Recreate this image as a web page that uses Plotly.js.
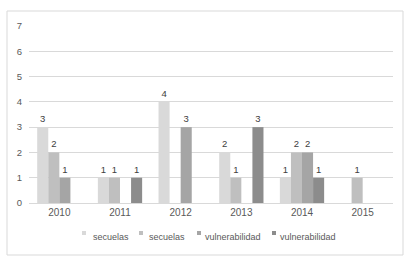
<!DOCTYPE html>
<html><head><meta charset="utf-8">
<script src="https://cdn.plot.ly/plotly-3.0.1.min.js"></script>
<style>html,body{margin:0;padding:0;background:#fff}#c{width:413px;height:262px}</style>
</head><body><div id="c"></div>
<script>
var years = ['2010','2011','2012','2013','2014','2015'];
var names = ['secuelas','secuelas','vulnerabilidad','vulnerabilidad'];
var s1 = [3,1,4,2,1,0];
var s2 = [2,1,0,1,2,1];
var s3 = [1,0,3,0,2,0];
var s4 = [0,1,0,3,1,0];
var colors = ['#d9d9d9','#bfbfbf','#a5a5a5','#8c8c8c'];
var series = [s1,s2,s3,s4];
var font = 'Liberation Sans, Arial, sans-serif';
var traces = series.map(function(v,i){
  return {type:'bar', x:years, y:v, name:names[i],
    marker:{color:colors[i]},
    text:v.map(function(a){return a>0?String(a):'';}),
    textposition:'outside', cliponaxis:false,
    textfont:{family:font,size:9.5,color:'#404040'}};
});
// legend drawn as text + small colour squares (pixel positions -> paper coords)
var L=29, W=364, B=203, H=177;
function px(x){return (x-L)/W;}
function py(y){return (B-y)/H;}
var legTextX = [91,147,203,278];
var legMarkX = [82,139,197,272];
var annotations = names.map(function(n,i){
  return {xref:'paper', yref:'paper', x:px(legTextX[i]), y:py(236.5), xanchor:'left', yanchor:'middle',
    text:n, showarrow:false, font:{family:font,size:9,color:'#595959'}};
});
var shapes = [{type:'rect', xref:'paper', yref:'paper', x0:px(7), x1:px(403), y0:py(255), y1:py(11), line:{color:'#d9d9d9',width:1}, fillcolor:'rgba(0,0,0,0)', layer:'below'}];
legMarkX.forEach(function(m,i){
  shapes.push({type:'rect', xref:'paper', yref:'paper', x0:px(m), x1:px(m+4), y0:py(235), y1:py(231), line:{width:0}, fillcolor:colors[i]});
});
var layout = {
  width:413, height:262,
  margin:{l:29,r:20,t:26,b:59},
  paper_bgcolor:'#fff', plot_bgcolor:'#fff',
  barmode:'group', bargap:0.27, bargroupgap:0,
  font:{family:font,size:9,color:'#595959'},
  xaxis:{type:'category', showgrid:false, showline:true, linecolor:'#d9d9d9', linewidth:1, ticks:'', tickfont:{size:10,color:'#595959'}},
  yaxis:{range:[0,7], dtick:1, showgrid:true, gridcolor:'#d9d9d9', gridwidth:1, zeroline:false, showline:false, ticks:'', tickfont:{size:9.5,color:'#595959'}, ticklabelstandoff:6},
  showlegend:false,
  annotations:annotations,
  shapes:shapes
};
Plotly.newPlot('c', traces, layout, {staticPlot:true, displayModeBar:false});
</script></body></html>
